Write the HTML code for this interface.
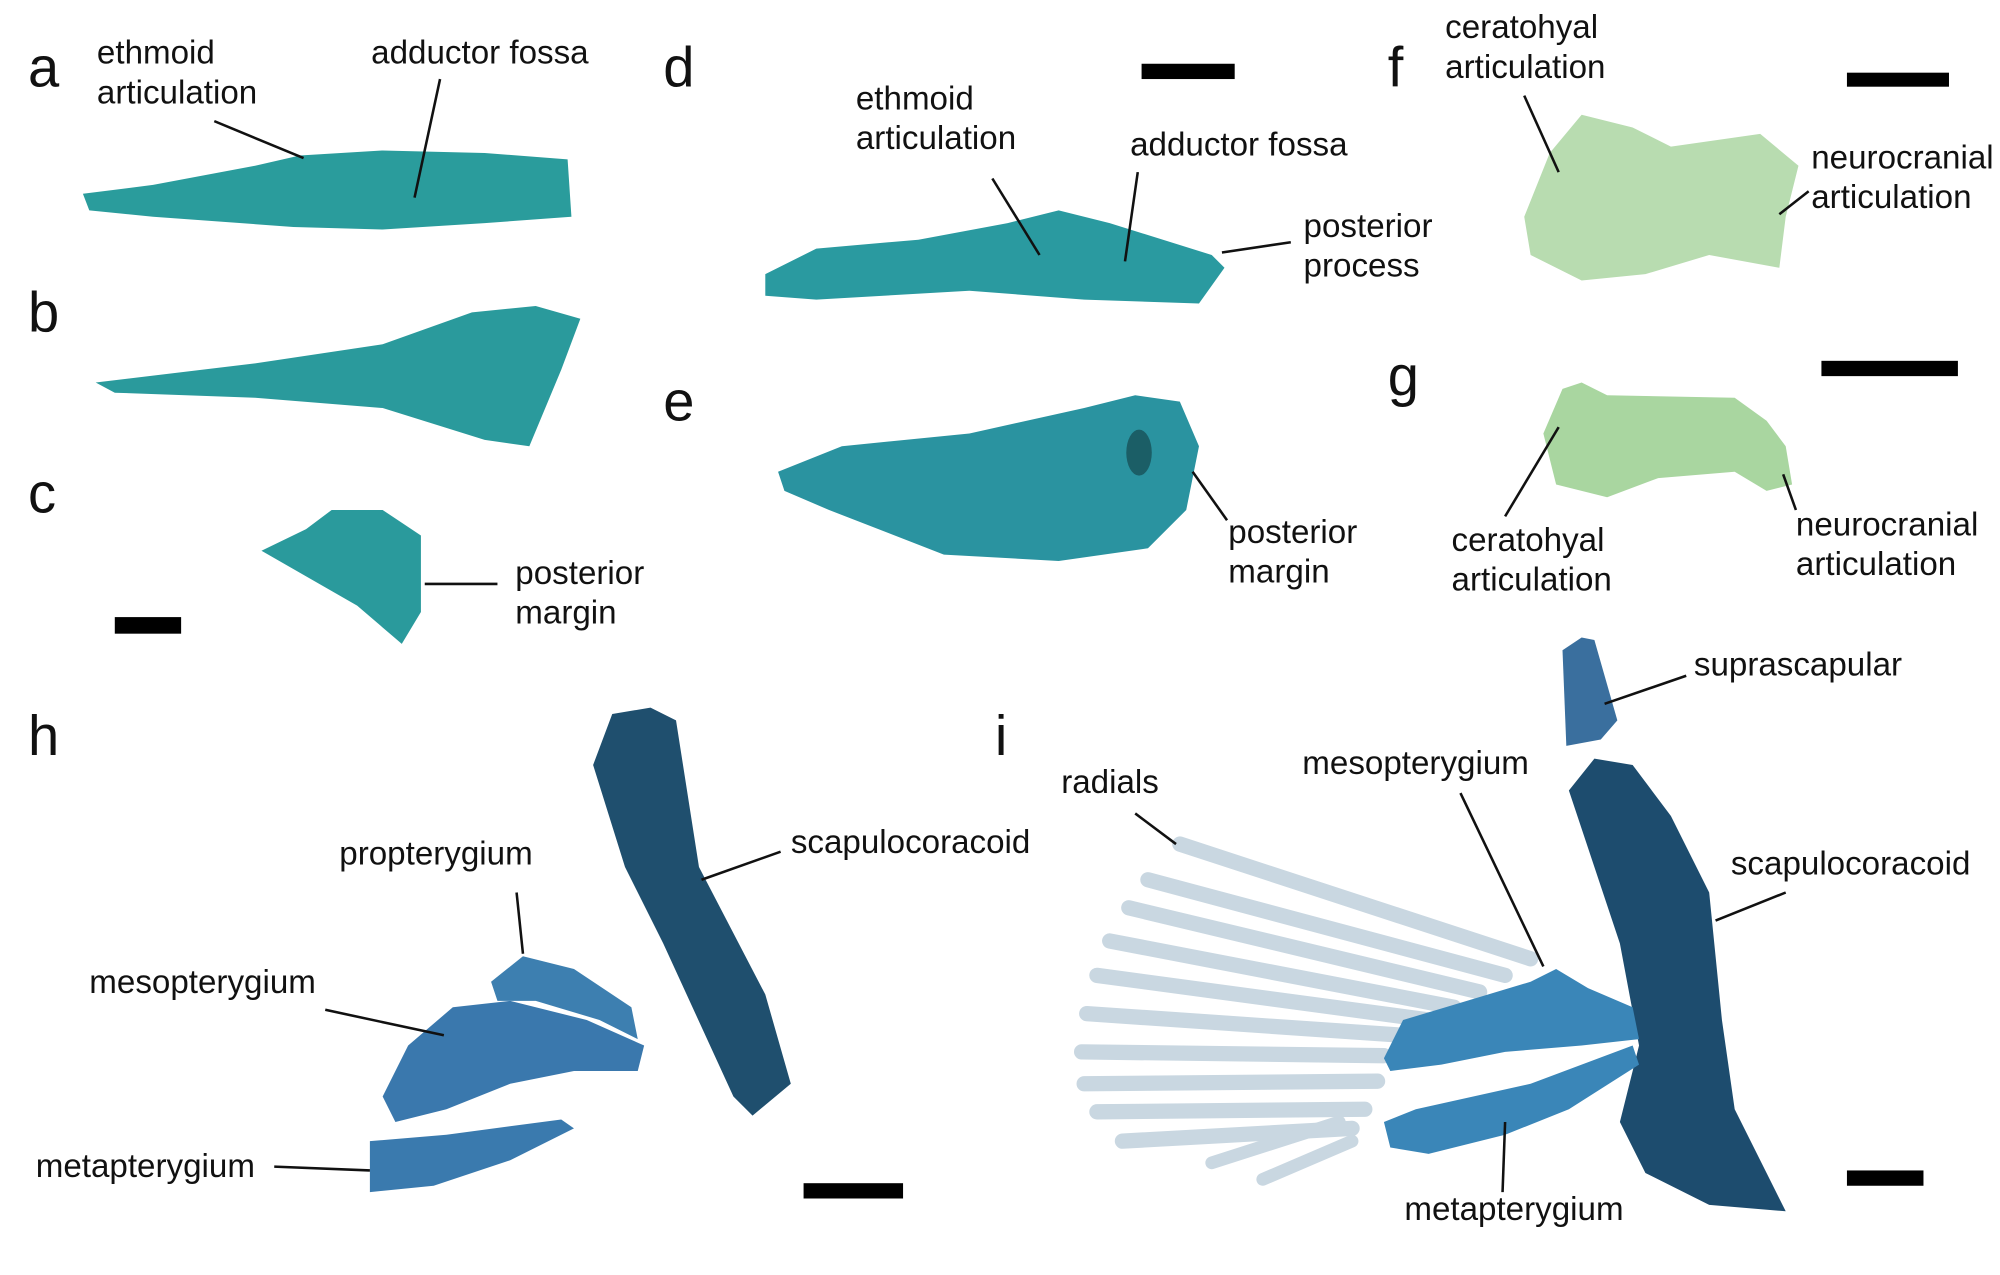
<!DOCTYPE html>
<html><head><meta charset="utf-8"><style>
html,body{margin:0;padding:0;background:#fff;}
svg{display:block;}
text{font-family:"Liberation Sans",sans-serif;fill:#111;}
.l{font-size:26px;}
.p{font-size:44px;}
line{stroke:#111;stroke-width:2;}
</style></head><body>
<svg width="2000" height="1275" viewBox="0 0 1568 1000" preserveAspectRatio="none" xmlns="http://www.w3.org/2000/svg">
<rect width="1568" height="1000" fill="#fff"/>
<text class="p" x="22" y="68">a</text>
<text class="p" x="22" y="260">b</text>
<text class="p" x="22" y="402">c</text>
<text class="p" x="520" y="68">d</text>
<text class="p" x="520" y="330">e</text>
<text class="p" x="1088" y="68">f</text>
<text class="p" x="1088" y="310">g</text>
<text class="p" x="22" y="592">h</text>
<text class="p" x="780" y="592">i</text>
<path fill="#2a9c9c" d="M65,152 L120,145 L200,130 L235,122 L300,118 L380,120 L445,125 L448,170 L380,175 L300,180 L230,178 L120,170 L70,165 Z"/>
<path fill="#2a9a9c" d="M75,300 L200,285 L300,270 L370,245 L420,240 L455,250 L440,290 L415,350 L380,345 L300,320 L200,312 L90,308 Z"/>
<path fill="#2a9a9c" d="M205,432 L240,415 L260,400 L300,400 L330,420 L330,480 L315,505 L280,475 Z"/>
<path fill="#2a9aa0" d="M600,215 L640,195 L720,188 L790,175 L830,165 L870,175 L950,200 L960,210 L940,238 L850,235 L760,228 L640,235 L600,232 Z"/>
<path fill="#2a93a0" d="M610,370 L660,350 L760,340 L850,320 L890,310 L925,315 L940,350 L930,400 L900,430 L830,440 L740,435 L650,400 L615,385 Z"/>
<ellipse cx="893" cy="355" rx="10" ry="18" fill="#1b5e66"/>
<path fill="#b8dcb0" d="M1195,170 L1215,120 L1240,90 L1280,100 L1310,115 L1380,105 L1410,130 L1400,170 L1395,210 L1340,200 L1290,215 L1240,220 L1200,200 Z"/>
<path fill="#a9d6a0" d="M1210,340 L1225,305 L1240,300 L1260,310 L1360,312 L1385,330 L1400,350 L1405,380 L1385,385 L1360,370 L1300,375 L1260,390 L1220,380 Z"/>
<path fill="#1f4f6e" d="M465,600 L480,560 L510,555 L530,565 L548,680 L600,780 L620,850 L590,875 L575,860 L520,740 L490,680 Z"/>
<path fill="#3d7fb0" d="M385,770 L410,750 L450,760 L495,790 L500,815 L470,800 L420,785 L390,785 Z"/>
<path fill="#3a78ad" d="M300,860 L320,820 L355,790 L400,785 L460,800 L505,820 L500,840 L450,840 L400,850 L350,870 L310,880 Z"/>
<path fill="#3a7aae" d="M290,895 L350,890 L440,878 L450,885 L400,910 L340,930 L290,935 Z"/>
<g stroke-linecap="round">
<line x1="925" y1="662" x2="1200" y2="752" style="stroke:#c9d7e1;stroke-width:12"/>
<line x1="900" y1="690" x2="1180" y2="765" style="stroke:#c9d7e1;stroke-width:12"/>
<line x1="885" y1="712" x2="1160" y2="778" style="stroke:#c9d7e1;stroke-width:12"/>
<line x1="870" y1="738" x2="1140" y2="790" style="stroke:#c9d7e1;stroke-width:12"/>
<line x1="860" y1="765" x2="1120" y2="800" style="stroke:#c9d7e1;stroke-width:12"/>
<line x1="852" y1="795" x2="1100" y2="812" style="stroke:#c9d7e1;stroke-width:12"/>
<line x1="848" y1="825" x2="1085" y2="828" style="stroke:#c9d7e1;stroke-width:12"/>
<line x1="850" y1="850" x2="1080" y2="848" style="stroke:#c9d7e1;stroke-width:12"/>
<line x1="860" y1="872" x2="1070" y2="870" style="stroke:#c9d7e1;stroke-width:12"/>
<line x1="880" y1="895" x2="1060" y2="885" style="stroke:#c9d7e1;stroke-width:12"/>
<line x1="950" y1="912" x2="1050" y2="880" style="stroke:#c9d7e1;stroke-width:10"/>
<line x1="990" y1="925" x2="1060" y2="895" style="stroke:#c9d7e1;stroke-width:10"/>
</g>
<path fill="#3a6f9e" d="M1225,510 L1240,500 L1250,502 L1268,565 L1255,580 L1228,585 Z"/>
<path fill="#1d4c6e" d="M1230,620 L1250,595 L1280,600 L1310,640 L1340,700 L1345,750 L1350,800 L1360,870 L1385,920 L1400,950 L1340,945 L1290,920 L1270,880 L1285,820 L1270,740 L1250,680 Z"/>
<path fill="#3a86b8" d="M1085,830 L1100,800 L1150,785 L1200,770 L1220,760 L1245,775 L1280,790 L1285,815 L1240,820 L1180,825 L1130,835 L1090,840 Z"/>
<path fill="#3a86b8" d="M1085,880 L1110,870 L1200,850 L1280,820 L1285,835 L1230,870 L1180,890 L1120,905 L1090,900 Z"/>
<rect x="90" y="484" width="52" height="13" fill="#000"/>
<rect x="895" y="50" width="73" height="12" fill="#000"/>
<rect x="1448" y="57" width="80" height="11" fill="#000"/>
<rect x="1428" y="283" width="107" height="12" fill="#000"/>
<rect x="630" y="928" width="78" height="12" fill="#000"/>
<rect x="1448" y="918" width="60" height="12" fill="#000"/>
<text class="l" x="76" y="50">ethmoid</text><text class="l" x="76" y="81">articulation</text>
<line x1="168" y1="95" x2="238" y2="124"/>
<text class="l" x="291" y="50">adductor fossa</text>
<line x1="345" y1="62" x2="325" y2="155"/>
<text class="l" x="404" y="458">posterior</text><text class="l" x="404" y="489">margin</text>
<line x1="333" y1="458" x2="390" y2="458"/>
<text class="l" x="671" y="86">ethmoid</text><text class="l" x="671" y="117">articulation</text>
<line x1="778" y1="140" x2="815" y2="200"/>
<text class="l" x="886" y="122">adductor fossa</text>
<line x1="892" y1="135" x2="882" y2="205"/>
<text class="l" x="1022" y="186">posterior</text><text class="l" x="1022" y="217">process</text>
<line x1="958" y1="198" x2="1012" y2="190"/>
<text class="l" x="963" y="426">posterior</text><text class="l" x="963" y="457">margin</text>
<line x1="935" y1="370" x2="962" y2="408"/>
<text class="l" x="1133" y="30">ceratohyal</text><text class="l" x="1133" y="61">articulation</text>
<line x1="1195" y1="75" x2="1222" y2="135"/>
<text class="l" x="1420" y="132">neurocranial</text><text class="l" x="1420" y="163">articulation</text>
<line x1="1395" y1="168" x2="1418" y2="150"/>
<text class="l" x="1138" y="432">ceratohyal</text><text class="l" x="1138" y="463">articulation</text>
<line x1="1180" y1="405" x2="1222" y2="335"/>
<text class="l" x="1408" y="420">neurocranial</text><text class="l" x="1408" y="451">articulation</text>
<line x1="1398" y1="372" x2="1408" y2="400"/>
<text class="l" x="620" y="669">scapulocoracoid</text>
<line x1="550" y1="690" x2="612" y2="668"/>
<text class="l" x="266" y="678">propterygium</text>
<line x1="405" y1="700" x2="410" y2="748"/>
<text class="l" x="70" y="779">mesopterygium</text>
<line x1="255" y1="792" x2="348" y2="812"/>
<text class="l" x="28" y="923">metapterygium</text>
<line x1="215" y1="915" x2="290" y2="918"/>
<text class="l" x="1328" y="530">suprascapular</text>
<line x1="1258" y1="552" x2="1322" y2="530"/>
<text class="l" x="832" y="622">radials</text>
<line x1="890" y1="638" x2="922" y2="662"/>
<text class="l" x="1021" y="607">mesopterygium</text>
<line x1="1145" y1="622" x2="1210" y2="758"/>
<text class="l" x="1357" y="686">scapulocoracoid</text>
<line x1="1345" y1="722" x2="1400" y2="700"/>
<text class="l" x="1101" y="957">metapterygium</text>
<line x1="1180" y1="880" x2="1178" y2="935"/>
</svg>
</body></html>
